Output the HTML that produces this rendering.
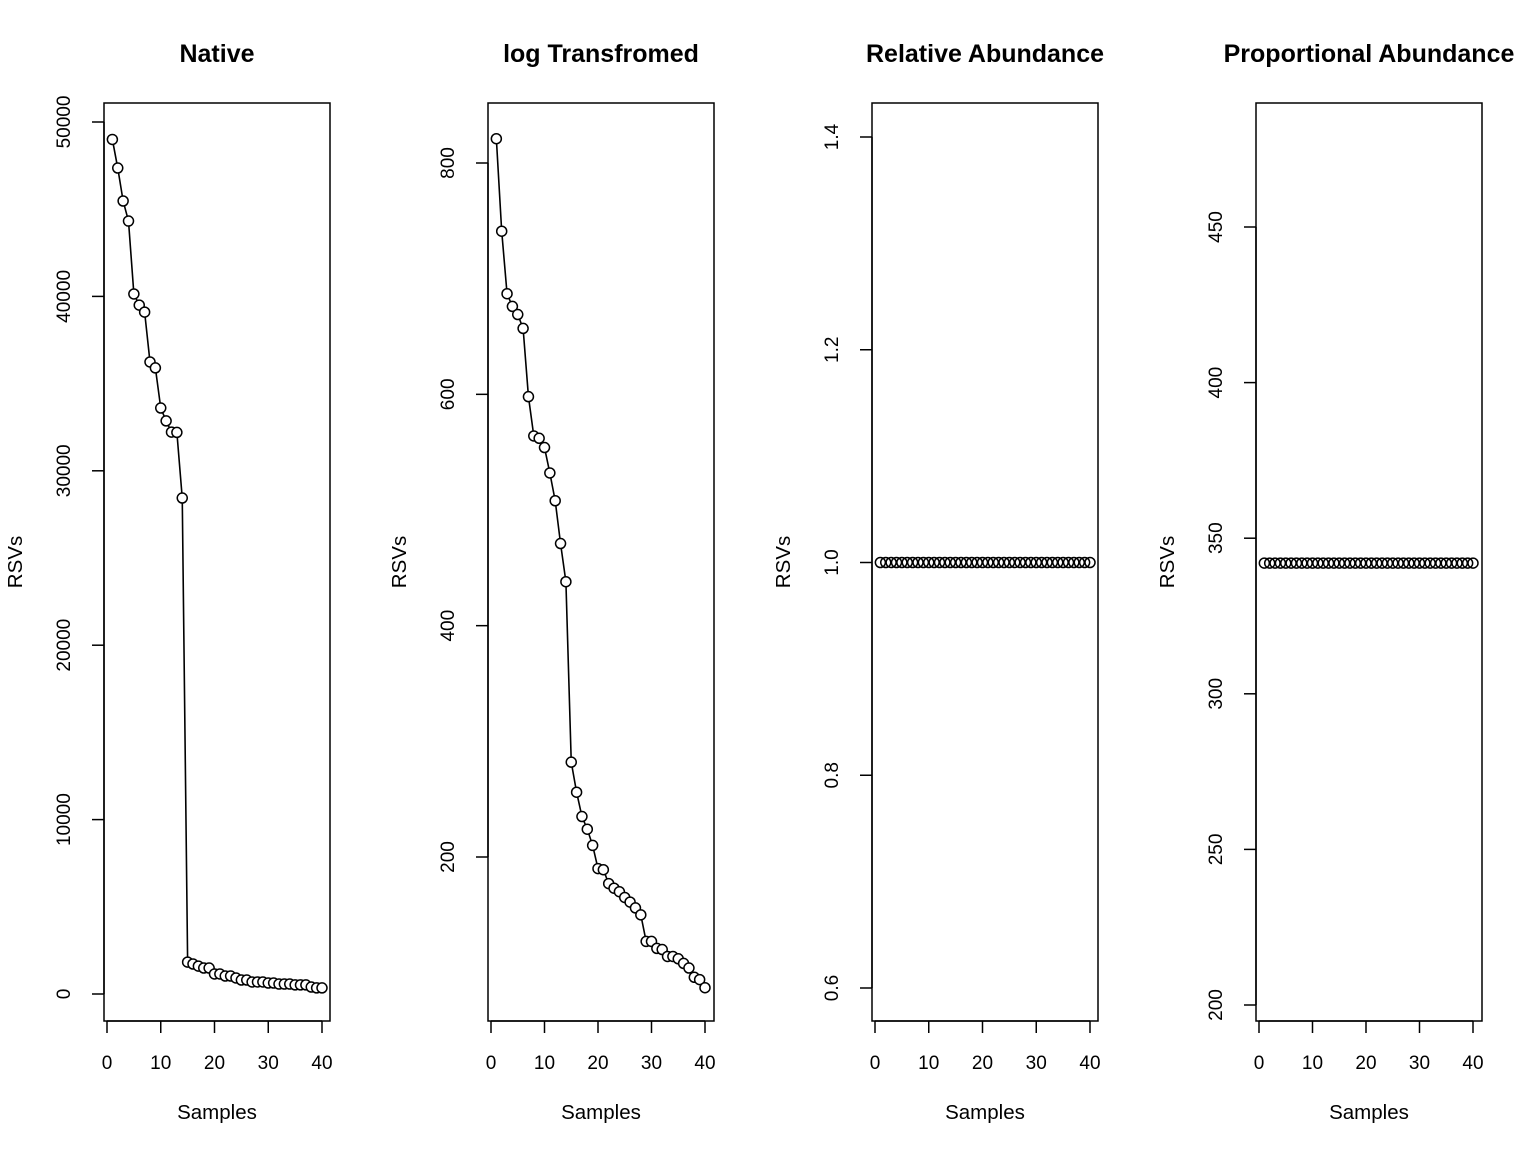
<!DOCTYPE html>
<html><head><meta charset="utf-8"><style>
body{margin:0;background:#fff}
svg{display:block;font-family:"Liberation Sans",Arial,sans-serif}
</style></head><body>
<svg id="chart" width="1536" height="1152" viewBox="0 0 1536 1152"></svg>
<script>
const samples = Array.from({length:40},(_,i)=>i+1);
const nativeValues = [49000,47360,45470,44320,40140,39500,39100,36240,35900,33600,32860,32220,32200,28440,1830,1720,1600,1490,1490,1150,1150,1030,1030,920,800,800,690,690,690,630,630,570,570,570,520,520,520,400,350,350];
const logValues = [821,741,687,676,669,657,598,564,562,554,532,508,471,438,282,256,235,224,210,190,189,177,173,170,165,161,156,150,127,127,121,120,114,114,112,108,104,96,94,87];
const relValues = samples.map(()=>1);
const propValues = samples.map(()=>342);
const xTicks = [0,10,20,30,40];
const nativeTicks = [0,10000,20000,30000,40000,50000];
const logTicks = [200,400,600,800];
const relTicks = [0.6,0.8,1.0,1.2,1.4];
const relTickLabels = ["0.6","0.8","1.0","1.2","1.4"];
const propTicks = [200,250,300,350,400,450];

const NS="http://www.w3.org/2000/svg";
const svg=document.getElementById('chart');
function el(t,a,p){const e=document.createElementNS(NS,t);for(const k in a)e.setAttribute(k,a[k]);(p||svg).appendChild(e);return e;}

const panels=[
 {title:"Native",x0:104,vals:nativeValues,ticks:nativeTicks,labels:nativeTicks.map(String),ya:0,yaPx:994,yb:50000,ybPx:122,line:true,xa0:107,xa40:322},
 {title:"log Transfromed",x0:488,vals:logValues,ticks:logTicks,labels:logTicks.map(String),ya:200,yaPx:857,yb:800,ybPx:163,line:true,xa0:491,xa40:705},
 {title:"Relative Abundance",x0:872,vals:relValues,ticks:relTicks,labels:relTickLabels,ya:0.6,yaPx:988,yb:1.4,ybPx:137,line:false,xa0:875,xa40:1090},
 {title:"Proportional Abundance",x0:1256,vals:propValues,ticks:propTicks,labels:propTicks.map(String),ya:200,yaPx:1005,yb:450,ybPx:227,line:false,xa0:1259,xa40:1473}
];
panels.forEach((p,pi)=>{
 const g=el('g',{});
 
 
 const xs=v=>p.xa0+(p.xa40-p.xa0)*v/40;
 const ys=v=>p.yaPx+(p.ybPx-p.yaPx)*(v-p.ya)/(p.yb-p.ya);
 const cx=p.x0+113;
 const t=el('text',{x:cx,y:62,'text-anchor':'middle','font-size':25,'font-weight':'bold'},g);t.textContent=p.title;
 
 const box=el('rect',{x:p.x0,y:103,width:226,height:918,fill:'none',stroke:'#000','stroke-width':1.5},g);
 
 const xa=el('g',{},g);
 el('line',{x1:xs(0),x2:xs(40),y1:1021,y2:1021,stroke:'#000','stroke-width':1.5},xa);
 xTicks.forEach(v=>{el('line',{x1:xs(v),x2:xs(v),y1:1021,y2:1033,stroke:'#000','stroke-width':1.5},xa);
  const l=el('text',{x:xs(v),y:1069,'text-anchor':'middle','font-size':19},xa);l.textContent=v;
  });
 const xl=el('text',{x:cx,y:1119,'text-anchor':'middle','font-size':20.5},g);xl.textContent="Samples";
 
 const ya=el('g',{},g);
 const tp=p.ticks.map(ys);
 el('line',{x1:p.x0,x2:p.x0,y1:Math.min(...tp),y2:Math.max(...tp),stroke:'#000','stroke-width':1.5},ya);
 p.ticks.forEach((v,i)=>{const y=ys(v);el('line',{x1:p.x0-12,x2:p.x0,y1:y,y2:y,stroke:'#000','stroke-width':1.5},ya);
  const l=el('text',{x:p.x0-34,y:y,'text-anchor':'middle','font-size':19,transform:`rotate(-90 ${p.x0-34} ${y})`},ya);l.textContent=p.labels[i];
  });
 const yl=el('text',{x:p.x0-82,y:562,'text-anchor':'middle','font-size':20.5,transform:`rotate(-90 ${p.x0-82} 562)`},g);yl.textContent="RSVs";
 
 if(p.line){const pl=el('polyline',{points:p.vals.map((v,i)=>xs(samples[i])+','+ys(v)).join(' '),fill:'none',stroke:'#000','stroke-width':1.6},g);
  }
 p.vals.forEach((v,i)=>{const c=el('circle',{cx:xs(samples[i]),cy:ys(v),r:5,fill:p.line?'#fff':'none',stroke:'#000','stroke-width':1.5},g);
  });
});
</script>
</body></html>
